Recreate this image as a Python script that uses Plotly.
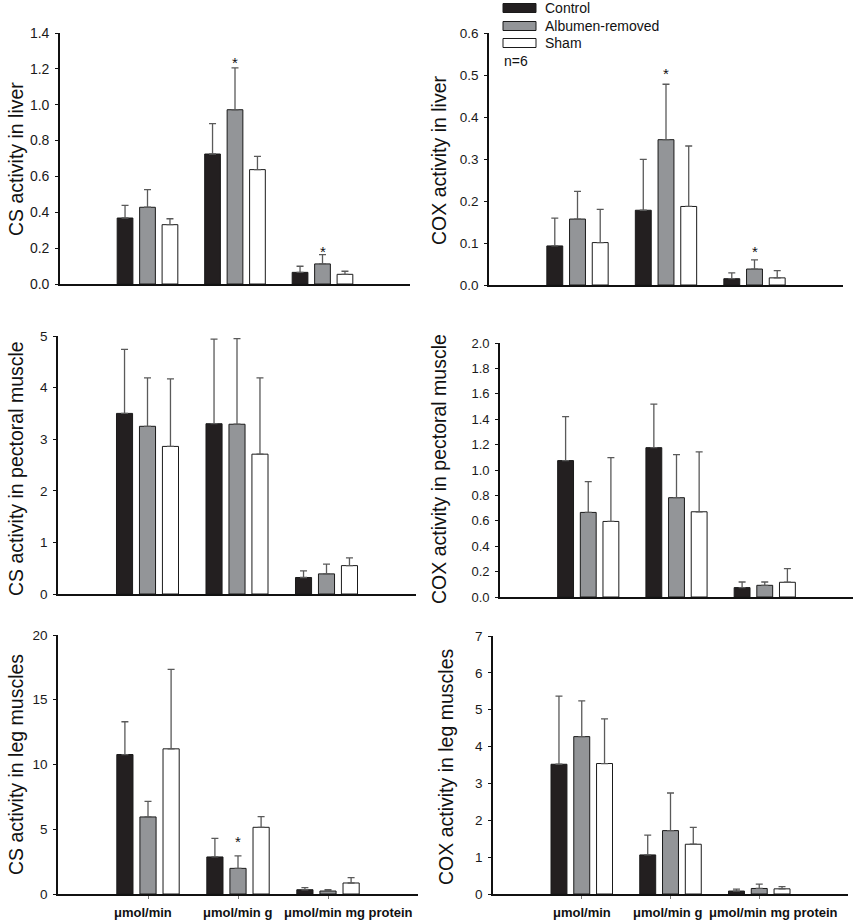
import plotly.graph_objects as go

W, H = 856, 921
FONT = "Liberation Sans, Arial, sans-serif"

groups = ["Control", "Albumen-removed", "Sham"]
group_colors = ["#231f20", "#939598", "#ffffff"]
units = ["μmol/min", "μmol/min g", "μmol/min mg protein"]

# --- data: mean values and upper error-bar ends (mean + SD), per group, per unit ---
cs_liver_mean = [[0.368, 0.725, 0.065], [0.428, 0.972, 0.112], [0.331, 0.638, 0.054]]
cs_liver_top = [[0.439, 0.894, 0.099], [0.526, 1.205, 0.164], [0.364, 0.712, 0.071]]
cox_liver_mean = [[0.093, 0.178, 0.015], [0.157, 0.346, 0.038], [0.101, 0.187, 0.017]]
cox_liver_top = [[0.159, 0.299, 0.029], [0.223, 0.478, 0.060], [0.180, 0.331, 0.034]]
cs_pect_mean = [[3.50, 3.30, 0.32], [3.25, 3.29, 0.39], [2.86, 2.71, 0.55]]
cs_pect_top = [[4.74, 4.94, 0.45], [4.19, 4.95, 0.58], [4.17, 4.19, 0.70]]
cox_pect_mean = [[1.074, 1.176, 0.074], [0.666, 0.782, 0.092], [0.595, 0.671, 0.116]]
cox_pect_top = [[1.421, 1.518, 0.118], [0.908, 1.121, 0.118], [1.097, 1.142, 0.224]]
cs_leg_mean = [[10.77, 2.86, 0.33], [5.95, 1.98, 0.23], [11.21, 5.15, 0.85]]
cs_leg_top = [[13.3, 4.30, 0.49], [7.16, 2.94, 0.33], [17.35, 5.98, 1.26]]
cox_leg_mean = [[3.52, 1.06, 0.08], [4.27, 1.72, 0.15], [3.54, 1.35, 0.14]]
cox_leg_top = [[5.37, 1.60, 0.13], [5.24, 2.74, 0.27], [4.75, 1.81, 0.20]]

# significance stars (unit index, y value) on the Albumen-removed bar
stars_cs_liver = [(1, 1.25), (2, 0.20)]
stars_cox_liver = [(1, 0.511), (2, 0.087)]
stars_cs_leg = [(1, 4.28)]

panels = [
    dict(title="CS activity in liver", mean=cs_liver_mean, top=cs_liver_top, stars=stars_cs_liver,
         yr=[0, 1.4], dt=0.2, fmt=".1f", px=(60, 410), py=(33, 284), tx=16, ty=159, labels=None, tf=14),
    dict(title="COX activity in liver", mean=cox_liver_mean, top=cox_liver_top, stars=stars_cox_liver,
         yr=[0, 0.6], dt=0.1, fmt=".1f", px=(489, 843), py=(33, 285), tx=439, ty=160, labels=None, tf=13.5),
    dict(title="CS activity in pectoral muscle", mean=cs_pect_mean, top=cs_pect_top, stars=[],
         yr=[0, 5], dt=1, fmt="d", px=(58, 416), py=(336, 594), tx=16, ty=469, labels=None, tf=13.5),
    dict(title="COX activity in pectoral muscle", mean=cox_pect_mean, top=cox_pect_top, stars=[],
         yr=[0, 2.0], dt=0.2, fmt=".1f", px=(500, 853), py=(343, 597), tx=439, ty=469, labels=None, tf=13),
    dict(title="CS activity in leg muscles", mean=cs_leg_mean, top=cs_leg_top, stars=stars_cs_leg,
         yr=[0, 20], dt=5, fmt="d", px=(58, 418), py=(635, 894), tx=16, ty=765, labels=[-5, -1, 20], tf=13.5),
    dict(title="COX activity in leg muscles", mean=cox_leg_mean, top=cox_leg_top, stars=[],
         yr=[0, 7], dt=1, fmt="d", px=(493, 848), py=(636, 894), tx=446, ty=767, labels=[0, -3, 14], tf=13.5),
]

fig = go.Figure()
annotations = []
shapes = []
xs = list(range(len(units)))

for i, p in enumerate(panels):
    n = i + 1
    xa = "x" if n == 1 else f"x{n}"
    ya = "y" if n == 1 else f"y{n}"
    for g, name in enumerate(groups):
        mean = p["mean"][g]
        err = [t - m for t, m in zip(p["top"][g], mean)]
        fig.add_trace(go.Bar(
            x=xs, y=mean, name=name, showlegend=False, xaxis=xa, yaxis=ya,
            marker=dict(color=group_colors[g], line=dict(color="#1a1a1a", width=1)),
            error_y=dict(type="data", symmetric=False, array=err, arrayminus=[0] * len(err),
                         color="#5a5a5a", thickness=1.3, width=3.5),
        ))
    xd = [p["px"][0] / W, p["px"][1] / W]
    yd = [1 - p["py"][1] / H, 1 - p["py"][0] / H]
    xkey = "xaxis" if n == 1 else f"xaxis{n}"
    ykey = "yaxis" if n == 1 else f"yaxis{n}"
    has_labels = p["labels"] is not None
    fig.layout[xkey] = dict(
        domain=xd, anchor=ya, range=[-1, 3], tickvals=xs, automargin=False,
        showticklabels=False, ticks="outside" if has_labels else "", ticklen=3,
        tickcolor="#777777", showline=True, linecolor="#111111", linewidth=1.6,
        showgrid=False, zeroline=False, fixedrange=True,
    )
    tv = []
    v = p["yr"][0]
    while v <= p["yr"][1] + 1e-9:
        tv.append(round(v, 6))
        v += p["dt"]
    fig.layout[ykey] = dict(
        domain=yd, anchor=xa, range=p["yr"], tickvals=tv, automargin=False,
        ticktext=[(f"{t:.1f}" if p["fmt"] == ".1f" else f"{int(round(t))}") for t in tv],
        ticks="outside", ticklen=3, tickcolor="#111111", showline=True, linecolor="#111111",
        linewidth=1.6, showgrid=False, zeroline=False, fixedrange=True, ticklabelstandoff=3,
        tickfont=dict(family=FONT, size=p["tf"], color="#1a1a1a"),
    )
    annotations.append(dict(
        text=p["title"], x=p["tx"] / W, y=1 - p["ty"] / H, xref="paper", yref="paper",
        textangle=-90, showarrow=False, xanchor="center", yanchor="middle",
        font=dict(family=FONT, size=19.5, color="#111111"),
    ))
    if has_labels:
        for k, lab in enumerate(units):
            annotations.append(dict(
                text=f"<b>{lab}</b>", x=xs[k], y=1 - 912 / H, xref=xa, yref="paper",
                xshift=p["labels"][k], showarrow=False, xanchor="center", yanchor="middle",
                font=dict(family=FONT, size=13, color="#111111"),
            ))
    for (ux, sy) in p["stars"]:
        annotations.append(dict(
            text="*", x=ux, y=sy, xref=xa, yref=ya, showarrow=False,
            xanchor="center", yanchor="middle", yshift=-3,
            font=dict(family=FONT, size=15, color="#111111"),
        ))

# legend (top-right panel)
leg_x0, leg_x1 = 503, 536
leg_ys = [8, 26, 43]
for g, name in enumerate(groups):
    yc = leg_ys[g]
    shapes.append(dict(type="rect", xref="paper", yref="paper",
                       x0=leg_x0 / W, x1=leg_x1 / W, y0=1 - (yc + 4.5) / H, y1=1 - (yc - 4.5) / H,
                       fillcolor=group_colors[g], line=dict(color="#1a1a1a", width=1)))
    annotations.append(dict(text=name, x=543 / W, y=1 - yc / H, xref="paper", yref="paper",
                            showarrow=False, xanchor="left", yanchor="middle",
                            font=dict(family=FONT, size=14, color="#111111")))
annotations.append(dict(text="n=6", x=502 / W, y=1 - 61 / H, xref="paper", yref="paper",
                        showarrow=False, xanchor="left", yanchor="middle",
                        font=dict(family=FONT, size=14, color="#111111")))

fig.update_layout(
    width=W, height=H, margin=dict(l=0, r=0, t=0, b=0, autoexpand=False),
    paper_bgcolor="white", plot_bgcolor="white",
    barmode="group", bargap=0.23, bargroupgap=0.3,
    annotations=annotations, shapes=shapes, showlegend=False,
    font=dict(family=FONT),
)

fig.write_html("out.html", config={"displayModeBar": False},
               post_script="document.body.style.margin='0';document.body.style.padding='0';")
